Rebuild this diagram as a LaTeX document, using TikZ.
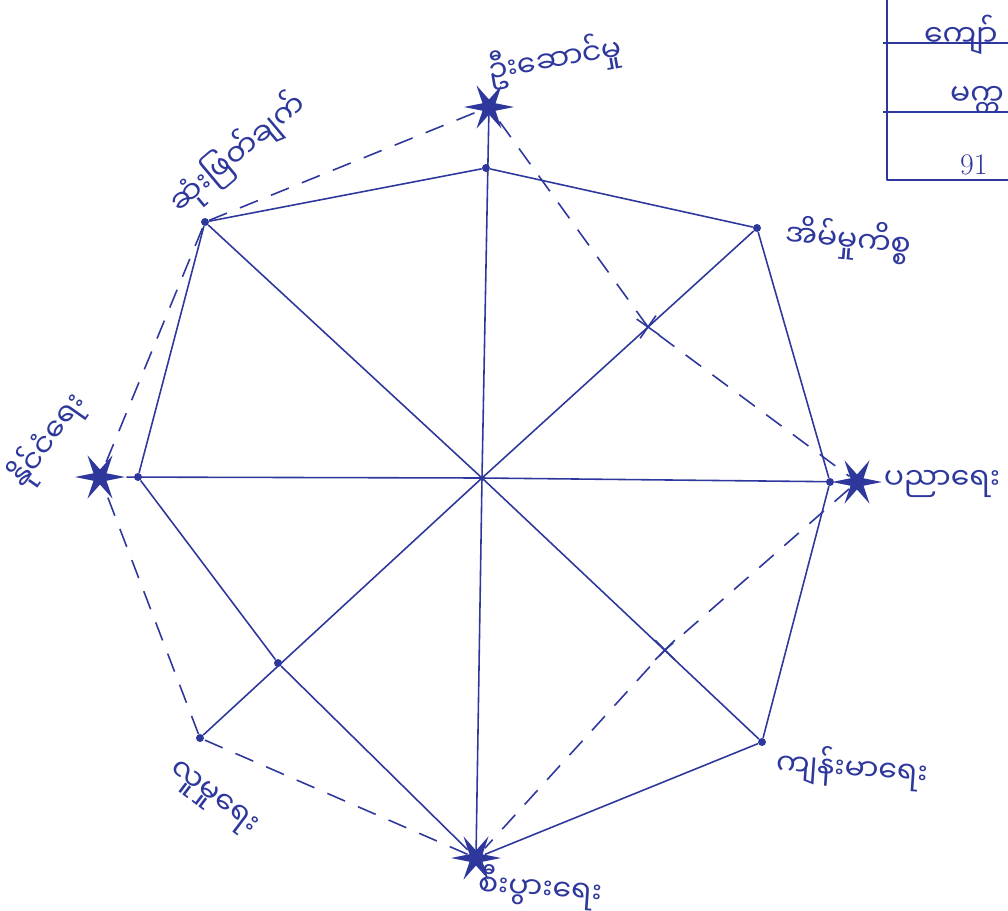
\documentclass[tikz,border=0pt]{standalone}
\usepackage{fontspec}
\newfontfamily\mmfont[Script=Myanmar]{Noto Sans Myanmar UI}
\usetikzlibrary{shapes.geometric,shapes.misc}
\definecolor{azulTinta}{RGB}{46,56,156}

\begin{document}
\begin{tikzpicture}[x=0.02cm, y=-0.02cm,
  punto/.style={circle, fill=azulTinta, inner sep=0pt, minimum size=0.16cm},
  estrella/.style={star, star points=6, star point ratio=0.3, fill=azulTinta, inner sep=0pt, minimum size=0.3cm},
  marca/.style={cross out, draw=azulTinta, line width=0.9pt, inner sep=0pt, minimum size=0.36cm},
  eje/.style={draw=azulTinta, line width=0.9pt},
  borde/.style={draw=azulTinta, line width=0.9pt, line join=round},
  guion/.style={draw=azulTinta, line width=0.9pt, dash pattern=on 11pt off 8pt},
  etiqueta/.style={text=azulTinta, font=\mmfont\fontsize{17}{20}\selectfont, inner sep=1pt}]

\useasboundingbox (0,0) rectangle (1008,910);
\clip (0,0) rectangle (1008,910);

% Centro y extremos
\coordinate (O) at (482,478);
\node[estrella] (eN) at (489,107) {};
\node[estrella] (eE) at (857,482) {};
\node[estrella] (eS) at (476,858) {};
\node[estrella] (eW) at (100,477) {};

% Puntos del poligono
\node[punto] (pN) at (486,168) {};
\node[punto] (pNE) at (757,228) {};
\node[punto] (pE) at (830,482) {};
\node[punto] (pSE) at (762,742) {};
\node[punto] (pSW) at (278,663) {};
\node[punto] (pSWe) at (200,738) {};
\node[punto] (pW) at (138,477) {};
\node[punto] (pNW) at (205,222) {};

% Marcas
\node[marca, rotate=10] (mNE) at (648,327) {};
\node[marca, rotate=0] (mSE) at (665,650) {};

% Ejes
\draw[eje] (O) -- (eN);
\draw[eje] (O) -- (pNE);
\draw[eje] (O) -- (eE);
\draw[eje] (O) -- (pSE);
\draw[eje] (O) -- (eS);
\draw[eje] (O) -- (pSWe);
\draw[eje] (O) -- (eW);
\draw[eje] (O) -- (pNW);

% Poligono continuo
\draw[borde] (pN) -- (pNE) -- (pE) -- (pSE) -- (eS) -- (pSW) -- (pW) -- (pNW) -- (pN);

% Poligono discontinuo
\draw[guion] (eN) -- (mNE.center) -- (eE) -- (mSE.center) -- (eS);
\draw[guion] (eS) -- (pSWe) -- (eW) -- (pNW) -- (eN);

% Etiquetas
\node[etiqueta, rotate=10] (lN) at (555,60) {ဦးဆောင်မှု};
\node[etiqueta, rotate=40] (lNW) at (238,153) {ဆုံးဖြတ်ချက်};
\node[etiqueta, rotate=-5] (lNE) at (848,240) {အိမ်မှုကိစ္စ};
\node[etiqueta] (lE) at (942,484) {ပညာရေး};
\node[etiqueta, rotate=-4] (lSE) at (852,768) {ကျန်းမာရေး};
\node[etiqueta, rotate=-4] (lS) at (540,888) {စီးပွားရေး};
\node[etiqueta, rotate=-37] (lSW) at (212,800) {လူမှုရေး};
\node[etiqueta, rotate=55] (lW) at (48,440) {နိုင်ငံရေး};

% Tabla (cortada)
\draw[borde] (887,0) -- (887,180) -- (1008,180);
\draw[borde] (883,43) -- (1008,43);
\draw[borde] (883,112) -- (1008,112);
\node[etiqueta, anchor=west] (t1) at (922,35) {ကျော်};
\node[etiqueta, anchor=west] (t2) at (948,100) {မက္က};
\node[etiqueta, anchor=west, font=\fontsize{17}{20}\selectfont] (t3) at (958,165) {91};

\end{tikzpicture}
\end{document}
